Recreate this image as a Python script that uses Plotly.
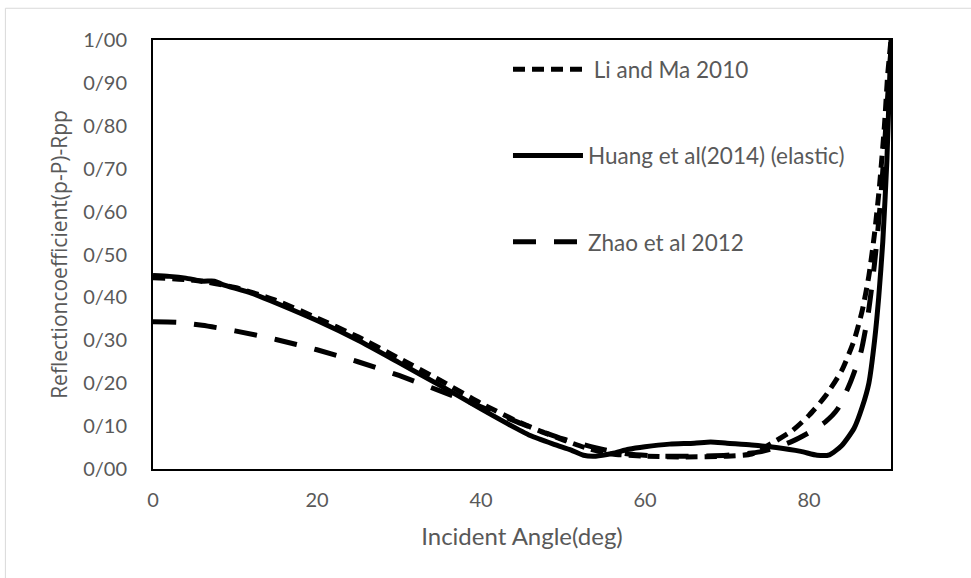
import plotly.graph_objects as go

# Incident angle (deg) and P-P reflection coefficient for each model
li_ma_angle = [0, 5, 10, 15, 20, 25, 30, 35, 40, 44, 47, 50, 53, 56, 60, 65, 70, 73,
               75, 78, 80, 82, 84, 85.5, 86.5, 87.3, 88, 88.6, 89.2, 89.6, 90]
li_ma_rpp = [0.446, 0.440, 0.423, 0.393, 0.352, 0.308, 0.258, 0.207, 0.153, 0.115,
             0.090, 0.068, 0.048, 0.035, 0.030, 0.028, 0.030, 0.035, 0.055, 0.090,
             0.125, 0.170, 0.230, 0.300, 0.370, 0.450, 0.550, 0.660, 0.800, 0.920, 1.0]

huang_angle = [0, 2, 4, 6, 7.5, 8.5, 12, 15, 20, 25, 30, 35, 40, 43, 46, 49, 51,
               52.5, 54, 56, 58, 60, 63, 66, 68, 70, 73, 76, 79, 81, 82.5, 84,
               85.5, 86.5, 87.3, 88, 88.5, 89, 89.5, 90]
huang_rpp = [0.451, 0.449, 0.445, 0.438, 0.438, 0.430, 0.410, 0.387, 0.346, 0.300,
             0.248, 0.195, 0.140, 0.108, 0.078, 0.057, 0.044, 0.032, 0.030, 0.036,
             0.046, 0.052, 0.058, 0.060, 0.063, 0.060, 0.056, 0.050, 0.041, 0.032,
             0.033, 0.055, 0.095, 0.145, 0.200, 0.300, 0.400, 0.530, 0.720, 1.0]

zhao_angle = [0, 3, 6, 10, 15, 20, 25, 30, 35, 40, 45, 50, 55, 58, 62, 66, 70, 74,
              76, 78, 80, 82, 83.5, 85, 86.3, 87.2, 88, 88.7, 89.2, 89.6, 90]
zhao_rpp = [0.343, 0.342, 0.335, 0.322, 0.302, 0.278, 0.250, 0.218, 0.182, 0.145,
            0.105, 0.070, 0.045, 0.035, 0.030, 0.030, 0.032, 0.040, 0.050, 0.065,
            0.085, 0.110, 0.140, 0.200, 0.270, 0.360, 0.480, 0.620, 0.750, 0.870, 0.98]

y_tick_vals = [0.0, 0.1, 0.2, 0.3, 0.4, 0.5, 0.6, 0.7, 0.8, 0.9, 1.0]
y_tick_text = ["0/00", "0/10", "0/20", "0/30", "0/40", "0/50",
               "0/60", "0/70", "0/80", "0/90", "1/00"]
x_tick_vals = [0, 20, 40, 60, 80]

GREY = "#595959"
FONT = "Lato"
LW = 5

fig = go.Figure()
fig.add_trace(go.Scatter(
    x=li_ma_angle, y=li_ma_rpp, mode="lines", name=" Li and Ma 2010",
    legendgroup="li", line=dict(color="black", width=LW, dash="12px,7px",
                                shape="spline", smoothing=0.6)))
fig.add_trace(go.Scatter(
    x=huang_angle, y=huang_rpp, mode="lines", name="Huang et al(2014) (elastic)",
    legendgroup="huang", line=dict(color="black", width=LW,
                                   shape="spline", smoothing=0.6)))
fig.add_trace(go.Scatter(
    x=zhao_angle, y=zhao_rpp, mode="lines", name="Zhao et al 2012",
    legendgroup="zhao", line=dict(color="black", width=LW, dash="23px,18px",
                                  shape="spline", smoothing=0.6)))

fig.update_layout(
    width=971, height=578,
    margin=dict(l=153, r=80, t=40, b=109),
    paper_bgcolor="white", plot_bgcolor="white",
    font=dict(family=FONT, color=GREY, size=20),
    showlegend=True,
    legend=dict(x=0.481, y=0.981, xanchor="left", yanchor="top",
                bgcolor="rgba(0,0,0,0)", tracegroupgap=54, itemwidth=70,
                font=dict(family=FONT, size=22.5, color=GREY)),
    xaxis=dict(range=[0, 90], tickvals=x_tick_vals, showgrid=False, zeroline=False,
               showline=True, linecolor="black", linewidth=2, mirror=True,
               ticks="", ticklabelstandoff=12,
               tickfont=dict(family=FONT, size=20, color=GREY),
               title=dict(text="Incident Angle(deg)", standoff=18,
                          font=dict(family=FONT, size=24, color=GREY))),
    yaxis=dict(range=[0, 1.0], tickvals=y_tick_vals, ticktext=y_tick_text,
               showgrid=False, zeroline=False,
               showline=True, linecolor="black", linewidth=2, mirror=True,
               ticks="", ticklabelstandoff=20,
               tickfont=dict(family=FONT, size=20, color=GREY),
               title=dict(text="Reflectioncoefficient(p-P)-Rpp", standoff=10,
                          font=dict(family="Open Sans", size=21, color=GREY))),
    shapes=[dict(type="rect", xref="paper", yref="paper",
                 x0=-0.2, x1=1.12, y0=-0.27, y1=1.074,
                 line=dict(color="#d9d9d9", width=1), layer="below")],
)

fig.write_html("out.html")
